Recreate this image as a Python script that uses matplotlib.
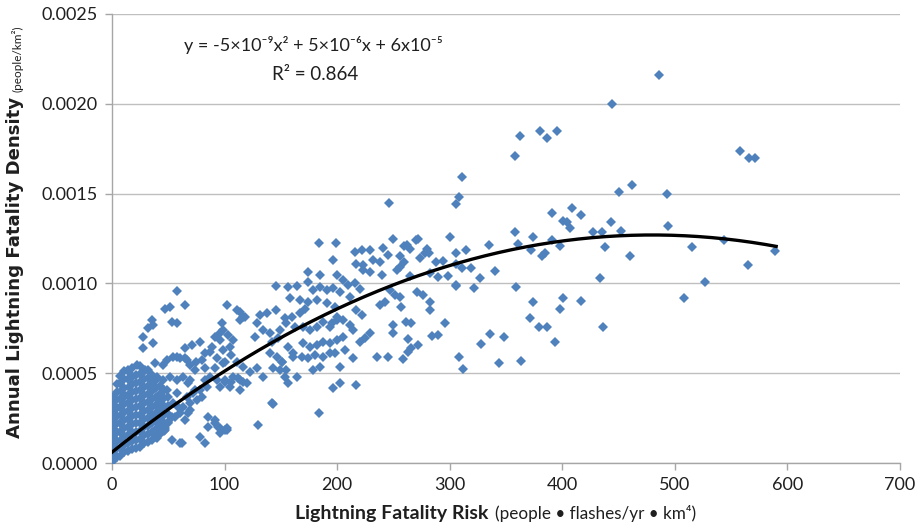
import numpy as np
import matplotlib
matplotlib.use("Agg")
import matplotlib.pyplot as plt
from matplotlib.ticker import FormatStrFormatter, MultipleLocator

plt.rcParams['font.family'] = ['Lato', 'DejaVu Sans']

# points: (risk, density in units of 1e-4 people/km2)
# dense, overlapping cluster near the origin (read as columns of the solid mass)
blob_pts = [
    (0.5, 0.1), (0.6, 0.55), (0.4, 1.0), (0.5, 1.45), (0.7, 1.9), (0.5, 2.35), (0.6, 2.8), (0.4, 3.25), (0.8, 3.7),
    (4.0, 0.35), (3.8, 0.8), (4.1, 1.25), (4.0, 1.7), (3.9, 2.15), (4.2, 2.6), (4.0, 3.05), (3.8, 3.5),
    (4.1, 3.95), (4.0, 4.4),
    (7.5, 0.4), (7.4, 0.85), (7.6, 1.3), (7.5, 1.75), (7.3, 2.2), (7.6, 2.65), (7.5, 3.1), (7.4, 3.55),
    (7.7, 4.0), (7.5, 4.45), (7.4, 4.85),
    (11.0, 0.6), (11.2, 1.05), (10.9, 1.5), (11.0, 1.95), (11.1, 2.4), (10.8, 2.85), (11.0, 3.3),
    (11.2, 3.75), (11.0, 4.2), (10.9, 4.65), (11.1, 5.1),
    (14.5, 0.65), (14.4, 1.1), (14.6, 1.55), (14.5, 2.0), (14.3, 2.45), (14.6, 2.9), (14.5, 3.35),
    (14.4, 3.8), (14.7, 4.25), (14.5, 4.7), (14.4, 5.15),
    (18.0, 0.8), (18.1, 1.25), (17.9, 1.7), (18.0, 2.15), (18.2, 2.6), (17.8, 3.05), (18.0, 3.5),
    (18.1, 3.95), (18.0, 4.4), (17.9, 4.85), (18.1, 5.3),
    (21.5, 0.85), (21.4, 1.3), (21.6, 1.75), (21.5, 2.2), (21.3, 2.65), (21.6, 3.1), (21.5, 3.55),
    (21.4, 4.0), (21.7, 4.45), (21.5, 4.9),
    (25.0, 0.9), (25.1, 1.35), (24.9, 1.8), (25.0, 2.25), (25.2, 2.7), (24.8, 3.15), (25.0, 3.6),
    (25.1, 4.05), (25.0, 4.5), (24.9, 4.95), (25.1, 5.4),
    (28.5, 1.1), (28.4, 1.55), (28.6, 2.0), (28.5, 2.45), (28.3, 2.9), (28.6, 3.35), (28.5, 3.8),
    (28.4, 4.25), (28.7, 4.7), (28.5, 5.15),
    (32.0, 1.15), (32.1, 1.6), (31.9, 2.05), (32.0, 2.5), (32.2, 2.95), (31.8, 3.4), (32.0, 3.85),
    (32.1, 4.3), (32.0, 4.75), (31.9, 5.2),
    (35.5, 1.3), (35.4, 1.75), (35.6, 2.2), (35.5, 2.65), (35.3, 3.1), (35.6, 3.55), (35.5, 4.0),
    (35.4, 4.45), (35.6, 4.9),
    (39.0, 1.45), (39.1, 1.9), (38.9, 2.35), (39.0, 2.8), (39.2, 3.25), (38.8, 3.7), (39.0, 4.15), (39.1, 4.6),
    (42.5, 1.6), (42.4, 2.05), (42.6, 2.5), (42.5, 2.95), (42.3, 3.4), (42.6, 3.85), (42.5, 4.3),
    (46.0, 1.8), (46.1, 2.25), (45.9, 2.7), (46.0, 3.15), (46.2, 3.6), (45.8, 4.05),
    (49.5, 2.3), (49.4, 2.75), (49.6, 3.2), (49.5, 3.65),
]

# x roughly 15 - 160
low_pts = [
    (58, 9.58), (65, 8.8), (47, 8.6), (51.5, 8.7), (53, 7.87), (57.5, 7.78), (35.3, 7.96), (36.7, 7.68),
    (32.2, 7.5), (27.8, 7.03), (36.7, 6.66), (27.8, 6.39), (48.6, 5.73), (57.5, 5.88), (64.8, 5.83),
    (64.8, 6.39), (70.8, 6.57), (38.2, 5.55), (45.6, 5.46), (21.9, 5.46), (29.3, 5.18), (14.5, 5.18),
    (17.5, 4.8), (79.6, 5.73), (82.6, 6.1), (88.5, 6.48), (78.2, 6.75), (91.5, 7.03), (97.4, 7.78),
    (73.7, 5.18), (82.6, 5.27), (91.5, 5.27), (100.4, 4.62), (67.8, 4.44), (73.7, 4.06), (79.6, 3.69),
    (82.6, 4.62), (85.5, 2.58), (91.5, 2.39), (94.4, 2.02), (100.4, 1.84), (67.8, 2.77), (64.8, 2.39),
    (69.3, 3.32), (47, 1.84), (53, 1.28), (61.9, 1.1), (82.6, 1.1), (56, 2.58), (58.9, 3.13),
    (113.7, 8.42), (118, 8.11), (96, 7.22), (99, 7.4), (103.4, 7.13), (107.7, 6.85), (87, 6.2),
    (75, 5.64), (54.4, 5.92), (60.4, 5.83), (66.3, 5.73), (69.3, 5.46), (93, 5.83), (100.4, 5.64),
    (110.7, 5.64), (116.6, 5.36), (122.6, 5.08), (128.5, 5.27), (134.4, 4.8), (143.3, 5.27),
    (150.7, 5.64), (155, 5.18), (160.8, 5.92), (107.7, 4.8), (113.7, 4.62), (119.6, 4.44),
    (104.8, 4.25), (113.7, 4.06), (87, 4.8), (93, 4.62), (96, 4.25), (84, 4.25), (78, 4.06),
    (63.3, 4.8), (69.3, 4.62), (57.5, 4.62), (51.5, 4.8), (45.6, 4.62), (39.7, 4.8), (48.6, 4.06),
    (57.5, 3.88), (66.3, 3.69), (72.2, 3.88), (75.2, 3.5), (54.4, 3.32), (63.3, 3.13), (69.3, 2.95),
    (60.4, 2.77), (53, 2.58), (50, 2.21), (47, 1.93), (42.6, 1.65), (39.7, 1.37), (85.5, 2.02),
    (91.5, 2.21), (96, 1.93), (101.8, 1.93), (78.2, 1.46), (60.4, 1.1), (142.6, 3.28),
]

# x roughly 95 - 200
mid_pts = [
    (184, 12.27), (174, 10.65), (184.7, 10.47), (145.6, 9.86), (156.6, 9.78), (164, 9.86), (174.3, 10.1),
    (178.8, 9.63), (184.7, 9.82), (190.7, 9.63), (158, 9.17), (167, 9.07), (174.3, 8.98), (181.8, 9.07),
    (190.7, 8.89), (198, 8.7), (101.8, 8.8), (110.7, 8.52), (116.6, 8.15), (113.7, 7.96), (131.4, 8.24),
    (137.4, 8.33), (146, 8.52), (153.6, 8.05), (159.6, 8.15), (167, 8.33), (171.4, 8.6), (128.5, 7.78),
    (134.4, 7.4), (140.3, 7.22), (127, 7.03), (149, 7.4), (155, 7.78), (162.5, 7.59), (170, 7.59),
    (176, 7.4), (181.8, 7.59), (187.7, 7.87), (195, 7.78), (199.5, 7.96), (96, 6.85), (99, 6.29),
    (105, 6.48), (106, 6.0), (99, 5.55), (141.8, 6.75), (147.7, 6.94), (140.3, 6.1), (146.3, 5.92),
    (150.7, 5.64), (156.6, 6.48), (161, 6.1), (170, 6.66), (176, 6.48), (181.8, 6.57), (187.7, 6.75),
    (193.6, 6.66), (168.5, 5.92), (174.3, 5.83), (180.3, 6.0), (187.7, 5.92), (193.6, 6.1),
    (178.8, 5.18), (184.7, 5.36), (149, 5.18), (153.6, 4.8), (156.6, 4.47), (164, 4.8), (100, 4.53),
    (106, 4.53), (112, 4.72), (116.6, 4.53), (196.5, 4.16), (141.8, 3.32), (184, 2.8), (130, 2.1),
    (101.8, 1.84), (96, 1.65),
]

# x roughly 190 - 310
upper_pts = [
    (246, 14.5), (199, 12.27), (250, 12.5), (272, 12.45), (216, 11.76), (222, 11.86), (229, 11.86),
    (241, 11.95), (259, 12.08), (265, 11.9), (279.5, 11.9), (282, 11.68), (196.5, 11.3), (217, 11.1),
    (223, 11.0), (232, 11.3), (238, 11.2), (245, 11.6), (256, 11.5), (259, 11.2), (273.5, 11.4),
    (288, 11.2), (294, 11.26), (306, 11.1), (223, 10.75), (229, 10.65), (253, 10.75), (256, 10.93),
    (199.5, 10.47), (205.5, 10.19), (210, 9.91), (239.5, 10.47), (264.7, 10.4), (282.4, 10.56),
    (290, 10.37), (298.7, 10.4), (306, 9.9), (215.8, 10.0), (220, 9.7), (196.5, 9.73), (202.5, 9.54),
    (247, 9.63), (251, 9.35), (256, 9.26), (270.6, 9.54), (276.5, 9.35), (282.4, 8.98), (282.4, 8.52),
    (211, 9.26), (238, 8.8), (242.5, 8.98), (257, 8.7), (217, 8.52), (222, 8.24), (199.5, 8.15),
    (205.5, 7.96), (261.6, 7.87), (266, 7.78), (295.7, 7.81), (193.6, 7.6), (211, 7.68), (214.3, 7.4),
    (229, 7.22), (224.7, 6.94), (220, 6.75), (249.8, 7.68), (249.8, 7.22), (284, 7.07), (290, 7.13),
    (205.5, 7.03), (199.5, 6.85), (263, 6.89), (272, 6.57), (266, 6.39), (263, 6.2), (207, 6.29),
    (214, 5.83), (235, 5.92), (245, 5.92), (258.7, 5.77), (202.5, 5.36), (198, 6.14), (217, 4.34),
    (202.5, 4.44), (262, 12.14), (270, 12.4), (278, 11.68),
]

# x above 300, sparse
far_pts = [
    (311, 15.94), (308, 14.83), (305.5, 14.4), (357.6, 17.1), (362, 18.2), (380, 18.5), (386, 18.1),
    (395.5, 18.5), (300, 12.6), (306, 11.7), (314.6, 11.86), (310.8, 10.84), (318.8, 10.84),
    (305.5, 9.87), (322, 9.72), (326.8, 10.3), (334.8, 12.15), (340, 10.67), (358, 12.85), (361, 12.2),
    (374, 12.6), (372, 11.86), (381.6, 11.5), (384.5, 11.7), (390.8, 13.9), (400.8, 13.5),
    (403.8, 13.4), (409, 14.2), (407, 13.06), (398, 12.1), (391, 12.4), (359, 9.8), (374, 8.95),
    (371, 8.05), (379, 7.55), (386, 7.6), (393.7, 6.75), (400.8, 9.2), (398, 8.55), (335.7, 7.18),
    (327.7, 6.6), (348, 7.0), (308, 5.9), (311.4, 5.25), (344, 5.55), (363, 5.66),
    (485.8, 21.6), (444, 20.0), (558, 17.35), (566, 17.0), (571, 17.0), (417, 13.8), (450, 15.07),
    (462, 15.46), (493, 14.96), (443.5, 13.4), (427, 12.85), (435, 12.85), (452, 12.9), (494, 13.2),
    (438, 12.0), (460, 11.5), (515, 12.0), (544, 12.4), (589, 11.8), (565, 11.0), (433.7, 10.3),
    (527, 10.08), (417, 9.0), (507.7, 9.19), (435.8, 7.55),
]

# quadratic trend line (Excel fit, coefficients)
fit_coef = [-5.25e-9, 5.04e-6, 6.0e-5]
fit_end = 590

pts = np.array(blob_pts + low_pts + mid_pts + upper_pts + far_pts)
risk = pts[:, 0]
density = pts[:, 1] * 1e-4

W, H = 921, 528
fig = plt.figure(figsize=(W / 100, H / 100), dpi=100)
ax = fig.add_axes([112 / W, 65 / H, 788 / W, 449 / H])

ax.plot(risk, density, linestyle='none', marker='D', markersize=5.6,
        color='#4F81BD', markeredgewidth=0, zorder=3)

xs = np.linspace(0, fit_end, 300)
ax.plot(xs, np.polyval(fit_coef, xs), color='black', lw=2.4, zorder=4)

ax.set_xlim(0, 700)
ax.set_ylim(0, 0.0025)
ax.xaxis.set_major_locator(MultipleLocator(100))
ax.yaxis.set_major_locator(MultipleLocator(0.0005))
ax.yaxis.set_major_formatter(FormatStrFormatter('%.4f'))
ax.grid(axis='y', color='#BFBFBF', lw=1.0, zorder=0)
ax.set_axisbelow(True)
for s in ['top', 'right']:
    ax.spines[s].set_visible(False)
for s in ['left', 'bottom']:
    ax.spines[s].set_color('#A6A6A6')
    ax.spines[s].set_linewidth(1.0)
ax.tick_params(axis='both', colors='#A6A6A6', labelcolor='#1F1F1F',
               labelsize=13, length=5, width=1.0)
ax.tick_params(axis='x', pad=5)
ax.tick_params(axis='y', pad=5)

# trend line equation, placed in figure pixel space
fig.text(313 / W, 1 - 45 / H, 'y = -5×10⁻⁹x² + 5×10⁻⁶x + 6x10⁻⁵', ha='center', va='center',
         fontsize=13, color='#1F1F1F')
fig.text(315 / W, 1 - 75 / H, 'R² = 0.864', ha='center', va='center',
         fontsize=13.5, color='#1F1F1F')

r = fig.canvas.get_renderer()


def fit_len(t, target, vertical=False):
    # scale font size so the text run has the reference length in pixels
    bb = t.get_window_extent(r)
    cur = bb.height if vertical else bb.width
    t.set_fontsize(t.get_fontsize() * target / cur)
    bb = t.get_window_extent(r)
    return bb.height if vertical else bb.width


# axis titles: bold part + regular part
xb = fig.text(0, 1 - 513 / H, 'Lightning Fatality Risk', fontsize=13, weight='bold',
              va='center', color='#1F1F1F')
xr = fig.text(0, 1 - 513 / H, '(people • flashes/yr • km⁴)', fontsize=12,
              va='center', color='#1F1F1F')
wb = fit_len(xb, 192)
wr = fit_len(xr, 200)
xb.set_x(295 / W)
xr.set_x((295 + wb + 7) / W)

yb = fig.text(15 / W, 0, 'Annual Lightning Fatality Density', fontsize=12, weight='bold',
              family=['DejaVu Sans'], rotation=90, ha='center', va='bottom', color='#1F1F1F')
yr = fig.text(17 / W, 0, '(people/km²)', fontsize=8.5, rotation=90,
              ha='center', va='bottom', color='#1F1F1F')
hb = fit_len(yb, 340, vertical=True)
hr = yr.get_window_extent(r).height
yb.set_y((H - 438) / H)
yr.set_y((H - 438 + hb + 5) / H)

fig.savefig('out.png', dpi=100)
